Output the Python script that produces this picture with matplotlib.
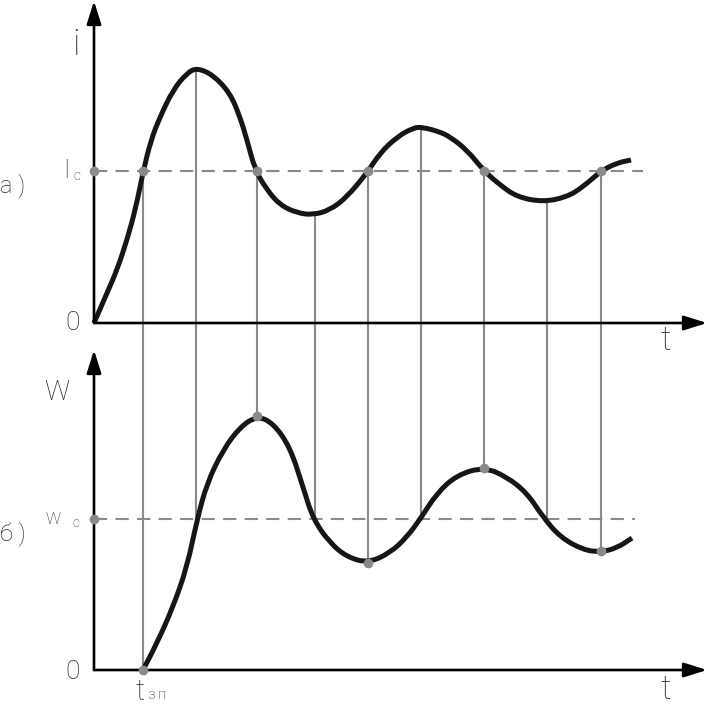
import matplotlib
matplotlib.use("Agg")
import matplotlib.pyplot as plt
from matplotlib.patches import ConnectionPatch, PathPatch
from matplotlib.path import Path

plt.rcParams['lines.scale_dashes'] = False
plt.rcParams['font.family'] = ['Roboto', 'DejaVu Sans']

# ---- data (relative units: Ic = 1, Wc = 1) ----
t_i = [0.0, 1.3, 2.3, 3.3, 4.2, 4.9, 5.7, 6.6, 7.9, 9.3, 10.3, 11.9, 13.6, 14.6,
       15.3, 16.1, 17.3, 18.6, 20.3, 21.9, 23.6, 25.3, 27.3, 28.6, 30.3, 31.9,
       32.8, 34.6, 35.6, 37.3, 39.0, 40.6, 42.3, 44.9, 47.3, 48.9, 50.7, 52.3, 53.7]
i_vals = [0.0, 0.197, 0.349, 0.546, 0.763, 0.993, 1.204, 1.355, 1.533, 1.645, 1.678,
          1.632, 1.513, 1.355, 1.204, 1.007, 0.875, 0.776, 0.724, 0.711, 0.743,
          0.829, 0.987, 1.118, 1.224, 1.283, 1.289, 1.257, 1.224, 1.138, 1.0,
          0.908, 0.829, 0.796, 0.829, 0.895, 1.0, 1.053, 1.072]

t_w = [4.9, 6.3, 7.9, 9.3, 10.3, 11.3, 12.9, 14.6, 16.3, 17.9, 19.6, 20.9, 21.9,
       23.6, 25.3, 27.4, 29.6, 31.3, 32.7, 34.3, 36.3, 39.0, 41.3, 43.3, 44.9,
       46.6, 48.9, 50.7, 52.3, 53.8]
w_vals = [0.0, 0.179, 0.417, 0.682, 0.993, 1.238, 1.457, 1.609, 1.682, 1.636,
          1.477, 1.212, 1.0, 0.841, 0.748, 0.709, 0.775, 0.881, 1.007, 1.172,
          1.291, 1.344, 1.278, 1.172, 1.013, 0.881, 0.795, 0.781, 0.808, 0.874]

# moments marked by vertical guide lines, with the curve values at them
t_marks = [4.9, 10.2, 16.3, 22.1, 27.4, 32.7, 39.0, 45.3, 50.7]
i_marks = [1.0, 1.678, 1.0, 0.711, 1.0, 1.296, 1.0, 0.803, 1.0]
w_marks = [0.0, 1.0, 1.682, 1.0, 0.709, 1.0, 1.338, 1.0, 0.788]

# points highlighted with gray dots
i_dot_t = [0.0, 4.9, 16.3, 27.4, 39.0, 50.7]
i_dot_v = [1.0, 1.0, 1.0, 1.0, 1.0, 1.0]
w_dot_t = [0.0, 4.9, 16.3, 27.4, 39.0, 50.7]
w_dot_v = [1.0, 0.0, 1.682, 0.709, 1.338, 0.788]

I_c = 1.0
W_c = 1.0
t_max = 61.3
i_max = 2.118
w_max = 2.119
ic_dash_end = 54.9
wc_dash_end = 54.1

W, H = 708, 706
fig = plt.figure(figsize=(W / 100, H / 100), dpi=100)
ax1 = fig.add_axes([94 / W, (H - 323) / H, (707 - 94) / W, 322 / H])
ax2 = fig.add_axes([94 / W, (H - 670) / H, (707 - 94) / W, 320 / H])
for ax, ym in ((ax1, i_max), (ax2, w_max)):
    ax.set_xlim(0, t_max)
    ax.set_ylim(0, ym)
    ax.axis('off')

GRAY = '#8a8a8a'
CURVE = '#161616'

# guide lines between the two panels
for t, a, b in zip(t_marks, i_marks, w_marks):
    con = ConnectionPatch(xyA=(t, a), coordsA=ax1.transData,
                          xyB=(t, b), coordsB=ax2.transData,
                          color=GRAY, lw=1.5, zorder=-1)
    fig.add_artist(con)

# axes with arrows
for ax, ym in ((ax1, i_max), (ax2, w_max)):
    arr = dict(arrowstyle='-|>,head_length=0.7,head_width=0.22', lw=1.9,
               color='black', shrinkA=0, shrinkB=0, mutation_scale=20)
    ax.annotate('', xy=(t_max, 0), xytext=(0, 0), arrowprops=arr,
                annotation_clip=False, zorder=3)
    ax.annotate('', xy=(0, ym), xytext=(0, 0), arrowprops=arr,
                annotation_clip=False, zorder=3)

# dashed set-value lines
ax1.plot([0, ic_dash_end], [I_c, I_c], color=GRAY, lw=1.5, dashes=(9.5, 6), zorder=1)
ax2.plot([0, wc_dash_end], [W_c, W_c], color=GRAY, lw=1.5, dashes=(9.5, 6), zorder=1)


def smooth_path(xs, ys):
    """Quadratic-Bezier path that uses the read points as control points."""
    pts = list(zip(xs, ys))
    verts = [pts[0]]
    codes = [Path.MOVETO]
    mid = lambda a, b: ((a[0] + b[0]) / 2, (a[1] + b[1]) / 2)
    verts.append(mid(pts[0], pts[1]))
    codes.append(Path.LINETO)
    for k in range(1, len(pts) - 1):
        verts += [pts[k], mid(pts[k], pts[k + 1])]
        codes += [Path.CURVE3, Path.CURVE3]
    verts.append(pts[-1])
    codes.append(Path.LINETO)
    return Path(verts, codes)


for ax, xs, ys in ((ax1, t_i, i_vals), (ax2, t_w, w_vals)):
    ax.add_patch(PathPatch(smooth_path(xs, ys), facecolor='none', edgecolor=CURVE,
                           lw=3.6, joinstyle='round', capstyle='butt', zorder=2,
                           clip_on=False))

# dots
ax1.plot(i_dot_t, i_dot_v, 'o', color=GRAY, ms=7, mew=0, zorder=4, clip_on=False)
ax2.plot(w_dot_t, w_dot_v, 'o', color=GRAY, ms=7, mew=0, zorder=4, clip_on=False)

# labels
TXT = '#2a2a2a'
def ftxt(x, y, s, size, **kw):
    fig.text(x / W, 1 - y / H, s, fontsize=size, color=TXT, fontweight='light',
             ha=kw.pop('ha', 'center'), va=kw.pop('va', 'center'), **kw)

ftxt(76, 45, 'i', 26)
ftxt(66, 171, 'I', 18)
ftxt(77, 176, 'c', 10)
ftxt(0, 186, 'а )', 17, ha='left')
ftxt(73, 323, '0', 19)
ftxt(666, 341, 't', 24)
ftxt(57, 393, 'W', 20)
ftxt(53, 520, 'W', 12)
ftxt(76, 523, 'c', 10)
ftxt(0, 534, 'б )', 17, ha='left')
ftxt(73, 672, '0', 19)
ftxt(140, 692, 't', 21)
ftxt(151, 695, 'з', 11)
ftxt(162, 695, 'п', 11)
ftxt(666, 690, 't', 24)

fig.savefig('out.png', dpi=100)
